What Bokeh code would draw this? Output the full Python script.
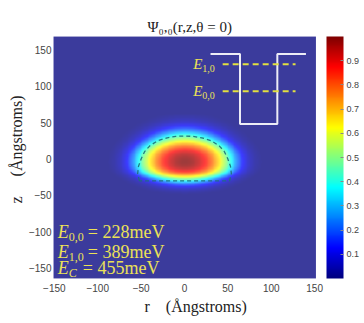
import numpy as np
from bokeh.plotting import figure
from bokeh.models import (LinearColorMapper, ColorBar, Label, Range1d, FixedTicker, Title)
from bokeh.embed import file_html
from bokeh.resources import INLINE

# ---------------- data ----------------
# radial profile of the probability density (value vs |r|, Angstrom), through the peak
r_steps = [0, 5, 10, 15, 20, 25, 30, 35, 40, 45, 50, 55, 60, 65, 70, 75, 80, 85, 90]
r_profile = [1.00, 0.99, 0.97, 0.94, 0.90, 0.85, 0.79, 0.72, 0.64, 0.55, 0.45,
             0.34, 0.24, 0.15, 0.09, 0.05, 0.025, 0.01, 0.0]
# vertical profile at r = 0 (value vs z, Angstrom)
z_steps = [-50, -45, -40, -35, -30, -25, -20, -15, -10, -5, 0, 5, 10, 15, 20, 25,
           30, 35, 40, 45, 50, 55, 60]
z_profile = [0.0, 0.02, 0.08, 0.20, 0.40, 0.62, 0.82, 0.93, 0.98, 1.00, 0.99, 0.96,
             0.90, 0.82, 0.71, 0.59, 0.46, 0.33, 0.21, 0.12, 0.06, 0.03, 0.01]

# quantum dot outline (dashed)
dot_r = [-52, -54, -53, -50, -46, -40, -31, -20, -10, 0, 10, 20, 31, 40, 46, 50, 53, 54, 52, -52]
dot_z = [-30, -20, -10, 0, 10, 18, 25, 29, 31, 31.5, 31, 29, 25, 18, 10, 0, -10, -20, -30, -30]

# inset: potential well and levels
well_r = [30, 64, 64, 107, 107, 140]
well_z = [144, 144, 48, 48, 144, 144]
level_subs = ["1,0", "0,0"]
level_z = [130, 93]
level_r0 = 44
level_r1 = 128

# energies
energy_subs = ["0,0", "1,0", "C"]
energy_vals = ["228meV", "389meV", "455meV"]

x_ticks = [-150, -100, -50, 0, 50, 100, 150]
y_ticks = [-150, -100, -50, 0, 50, 100, 150]
cb_ticks = [0.1, 0.2, 0.3, 0.4, 0.5, 0.6, 0.7, 0.8, 0.9]

# ---------------- build image grid from the two profiles ----------------
X0, X1 = -151, 151      # image (axes box) extent in r
Y0, Y1 = -164, 168      # image extent in z
step = 1.0
rr = np.arange(X0, X1 + step / 2, step)
zz = np.arange(Y0, Y1 + step / 2, step)
rs = np.array(r_steps, dtype=float)
rpv = np.array(r_profile)
# z-profile value -> equivalent radial distance (elliptical contours)
zval = np.interp(zz, z_steps, z_profile, left=0.0, right=0.0)
rho_z = np.interp(zval, rpv[::-1], rs[::-1])
R, RZ = np.meshgrid(rr, rho_z)
rho = np.sqrt(R ** 2 + RZ ** 2)
img = np.interp(rho, rs, rpv, right=0.0)


def jet(n=256):
    out = []
    for i in range(n):
        x = i / (n - 1)
        r = min(max(1.5 - abs(4 * x - 3), 0), 1)
        g = min(max(1.5 - abs(4 * x - 2), 0), 1)
        b = min(max(1.5 - abs(4 * x - 1), 0), 1)
        out.append("#%02x%02x%02x" % (int(r * 255), int(g * 255), int(b * 255)))
    return out


pal = jet()
mapper = LinearColorMapper(palette=pal, low=0, high=1)

SERIF = "Liberation Serif"
SANS = "Liberation Sans"
YEL = "#ebe157"
TC = "#222222"

FW = 262          # width of the image box in px
GAP = 11          # white gap between image box and colour bar
px_per_unit = FW / (X1 - X0)

p = figure(frame_width=FW + GAP, frame_height=242, min_border_left=53, min_border_top=36,
           min_border_bottom=45, min_border_right=0,
           x_range=Range1d(X0, X1 + GAP / px_per_unit), y_range=Range1d(Y0, Y1),
           output_backend="svg", toolbar_location=None)
p.background_fill_color = "white"
p.border_fill_color = "white"
p.outline_line_color = None
p.grid.visible = False

p.title.text = "\u03a8\u2080,\u2080(r,z,\u03b8 = 0)"
p.title.text_font = SERIF
p.title.text_font_size = "15px"
p.title.text_font_style = "normal"
p.title.text_color = TC
p.title.align = "left"
p.title.offset = 94
p.title.standoff = 3

p.image(image=[img], x=rr[0] - step / 2, y=zz[0] - step / 2,
        dw=(rr[-1] - rr[0]) + step, dh=(zz[-1] - zz[0]) + step,
        color_mapper=mapper, global_alpha=0.77)

# dot outline
p.line(dot_r, dot_z, line_color="#1e6f7a", line_width=1.3, line_dash="4 3", line_alpha=0.9)

# well
p.line(well_r, well_z, line_color="#ececf6", line_width=2)
for z in level_z:
    p.line([level_r0, level_r1], [z, z], line_color="#e2e040", line_width=2, line_dash="6 4")

for sub, z in zip(level_subs, level_z):
    p.add_layout(Label(x=10, y=z, text="E", text_font=SERIF, text_font_style="italic",
                       text_font_size="15px", text_color=YEL, text_baseline="middle"))
    p.add_layout(Label(x=10, y=z, x_offset=9, y_offset=-4, text=sub, text_font=SERIF,
                       text_font_size="10px", text_color=YEL, text_baseline="middle"))

# energy texts
ys = [-100, -127, -149]
eq_off = [30, 30, 25]
for sub, val, y, off in zip(energy_subs, energy_vals, ys, eq_off):
    p.add_layout(Label(x=-146, y=y, text="E", text_font=SERIF, text_font_style="italic",
                       text_font_size="18px", text_color=YEL, text_baseline="middle"))
    p.add_layout(Label(x=-146, y=y, x_offset=11, y_offset=-5, text=sub, text_font=SERIF,
                       text_font_style="italic" if sub == "C" else "normal",
                       text_font_size="12px", text_color=YEL, text_baseline="middle"))
    p.add_layout(Label(x=-146, y=y, x_offset=off, text="= " + val, text_font=SERIF,
                       text_font_size="18px", text_color=YEL, text_baseline="middle"))

for ax in (p.xaxis[0], p.yaxis[0]):
    ax.axis_line_color = None
    ax.major_tick_in = 0
    ax.major_tick_out = 0
    ax.minor_tick_in = 0
    ax.minor_tick_out = 0
    ax.major_tick_line_color = None
    ax.minor_tick_line_color = None
    ax.major_label_text_font = SANS
    ax.major_label_text_font_size = "10px"
    ax.major_label_text_color = "#444444"
p.xaxis.ticker = FixedTicker(ticks=x_ticks)
p.yaxis.ticker = FixedTicker(ticks=y_ticks)
p.xaxis.major_label_standoff = 5
p.yaxis.major_label_standoff = 2

# axis titles (as side titles so they can be positioned)
p.add_layout(Title(text="r\u00a0\u00a0\u00a0\u00a0(\u00c5ngstroms)", text_font=SERIF,
                   text_font_size="16px", text_font_style="normal", text_color=TC,
                   align="left", offset=91, standoff=2), "below")
p.add_layout(Title(text="z\u00a0\u00a0\u00a0\u00a0\u00a0(\u00c5ngstroms)", text_font=SERIF,
                   text_font_size="16px", text_font_style="normal", text_color=TC,
                   align="left", offset=75, standoff=2), "left")

cb = ColorBar(color_mapper=mapper, ticker=FixedTicker(ticks=cb_ticks), width=17,
              padding=0, margin=0, label_standoff=3,
              major_label_text_font=SANS, major_label_text_font_size="9px",
              major_label_text_color="#444444",
              major_tick_in=3, major_tick_out=0, major_tick_line_color="#888888",
              minor_tick_line_color=None, bar_line_color=None,
              background_fill_color=None, border_line_color=None)
p.add_layout(cb, "right")

open("out.html", "w").write(file_html(p, INLINE))
